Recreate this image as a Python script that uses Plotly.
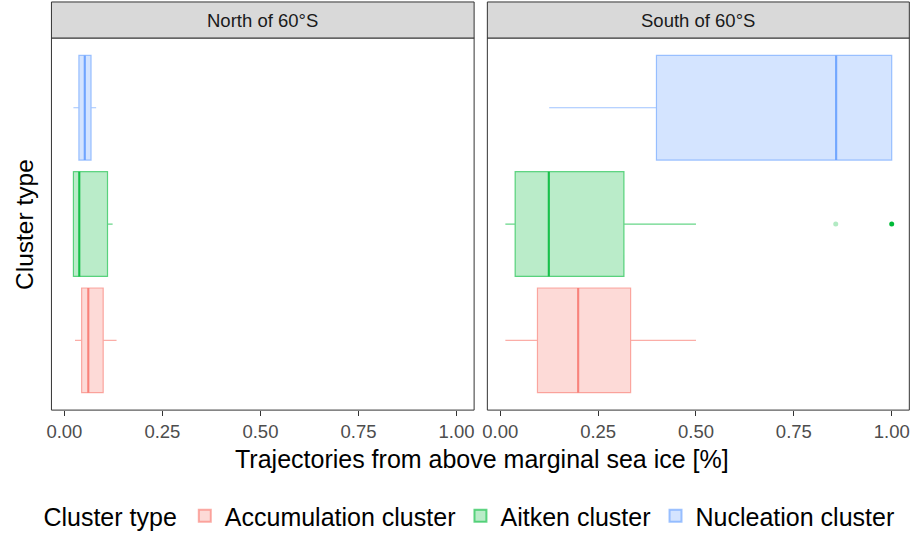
import plotly.graph_objects as go

categories = ["Accumulation cluster", "Aitken cluster", "Nucleation cluster"]
cat_pos = [1, 2, 3]
panels = ["North of 60°S", "South of 60°S"]

north_lower = [0.027, 0.023, 0.023]
north_q1 = [0.044, 0.023, 0.037]
north_median = [0.061, 0.038, 0.052]
north_q3 = [0.099, 0.110, 0.068]
north_upper = [0.133, 0.123, 0.081]

south_lower = [0.013, 0.013, 0.125]
south_q1 = [0.095, 0.038, 0.399]
south_median = [0.199, 0.124, 0.858]
south_q3 = [0.333, 0.316, 1.0]
south_upper = [0.500, 0.500, 1.0]

south_outlier_cat = [2, 2]
south_outlier_x = [0.857, 1.0]
south_outlier_alpha = [0.3, 1.0]

x_ticks = [0, 0.25, 0.5, 0.75, 1.0]
x_ticklabels = ["0.00", "0.25", "0.50", "0.75", "1.00"]

rgb = [(248, 118, 109), (0, 186, 56), (97, 156, 255)]

def rgba(c, a):
    return f"rgba({c[0]},{c[1]},{c[2]},{a})"

W, H = 914, 539
FONT = "Liberation Sans, Arial, sans-serif"

dom_left = [46.7 / W, 471.7 / W]
dom_right = [485 / W, 909.3 / W]
panel_top, panel_bot = 38.5, 415.5
ydom = [1 - panel_bot / H, 1 - panel_top / H]
strip_top = 2.0

fig = go.Figure()

data_sets = [
    ("x", "y", north_lower, north_q1, north_median, north_q3, north_upper),
    ("x2", "y2", south_lower, south_q1, south_median, south_q3, south_upper),
]

for pi, (xa, ya, lo, q1, med, q3, up) in enumerate(data_sets):
    for i, cat in enumerate(categories):
        c = rgb[i]
        fig.add_trace(go.Box(
            y=[cat_pos[i]], q1=[q1[i]], median=[med[i]], q3=[q3[i]],
            lowerfence=[lo[i]], upperfence=[up[i]],
            orientation="h", width=0.9, whiskerwidth=0,
            fillcolor=rgba(c, 0.27), line=dict(color=rgba(c, 0.6), width=1.2),
            boxpoints=False, name=cat, legendgroup=cat,
            showlegend=(pi == 0), xaxis=xa, yaxis=ya, hoverinfo="skip",
        ))
        # emphasised median line
        fig.add_trace(go.Scatter(
            x=[med[i], med[i]], y=[cat_pos[i] - 0.45, cat_pos[i] + 0.45],
            mode="lines", line=dict(color=rgba(c, 0.75), width=2.2),
            showlegend=False, xaxis=xa, yaxis=ya, hoverinfo="skip",
        ))

fig.add_trace(go.Scatter(
    x=south_outlier_x, y=south_outlier_cat, mode="markers",
    marker=dict(size=5, color=[rgba(rgb[1], a) for a in south_outlier_alpha]),
    showlegend=False, xaxis="x2", yaxis="y2", hoverinfo="skip",
))

xrange = [-0.033, 1.045]
axis_common = dict(
    range=xrange, tickvals=x_ticks, ticktext=x_ticklabels,
    ticks="outside", ticklen=5, tickcolor="#333333", tickwidth=1,
    showgrid=False, zeroline=False, showline=False,
    tickfont=dict(family=FONT, size=18.5, color="#4D4D4D"),
)
yaxis_common = dict(range=[0.4, 3.6], showticklabels=False, ticks="",
                    showgrid=False, zeroline=False, showline=False, domain=ydom)

fig.update_layout(
    width=W, height=H,
    margin=dict(l=0, r=0, t=0, b=0),
    paper_bgcolor="white", plot_bgcolor="white",
    xaxis=dict(domain=dom_left, anchor="y", **axis_common),
    xaxis2=dict(domain=dom_right, anchor="y2", **axis_common),
    yaxis=dict(anchor="x", **yaxis_common),
    yaxis2=dict(anchor="x2", **yaxis_common),
    boxmode="overlay",
    legend=dict(
        orientation="h", x=0.512, xanchor="center", y=1 - 523 / H, yanchor="middle",
        title=dict(text="Cluster type", font=dict(family=FONT, size=25, color="black")),
        font=dict(family=FONT, size=25, color="black"),
        bgcolor="rgba(0,0,0,0)", itemsizing="constant",
    ),
)

shapes = []
annotations = []
for dom, label in zip([dom_left, dom_right], panels):
    # panel border
    shapes.append(dict(type="rect", xref="paper", yref="paper",
                       x0=dom[0], x1=dom[1], y0=ydom[0], y1=ydom[1],
                       line=dict(color="#333333", width=1), fillcolor="rgba(0,0,0,0)",
                       layer="above"))
    # strip
    shapes.append(dict(type="rect", xref="paper", yref="paper",
                       x0=dom[0], x1=dom[1], y0=ydom[1], y1=1 - strip_top / H,
                       line=dict(color="#333333", width=1), fillcolor="#D9D9D9",
                       layer="above"))
    annotations.append(dict(text=label, xref="paper", yref="paper",
                            x=(dom[0] + dom[1]) / 2, y=1 - 20.5 / H,
                            xanchor="center", yanchor="middle", showarrow=False,
                            font=dict(family=FONT, size=18.5, color="#1A1A1A")))

annotations.append(dict(text="Trajectories from above marginal sea ice [%]",
                        xref="paper", yref="paper", x=479.5 / W, y=1 - 465 / H,
                        xanchor="center", yanchor="middle", showarrow=False,
                        font=dict(family=FONT, size=25, color="black")))
annotations.append(dict(text="Cluster type", xref="paper", yref="paper",
                        x=19 / W, y=1 - (panel_top + panel_bot) / 2 / H,
                        xanchor="center", yanchor="middle", showarrow=False,
                        textangle=-90,
                        font=dict(family=FONT, size=24.5, color="black")))

fig.update_layout(shapes=shapes, annotations=annotations)
fig.write_html("out.html")
